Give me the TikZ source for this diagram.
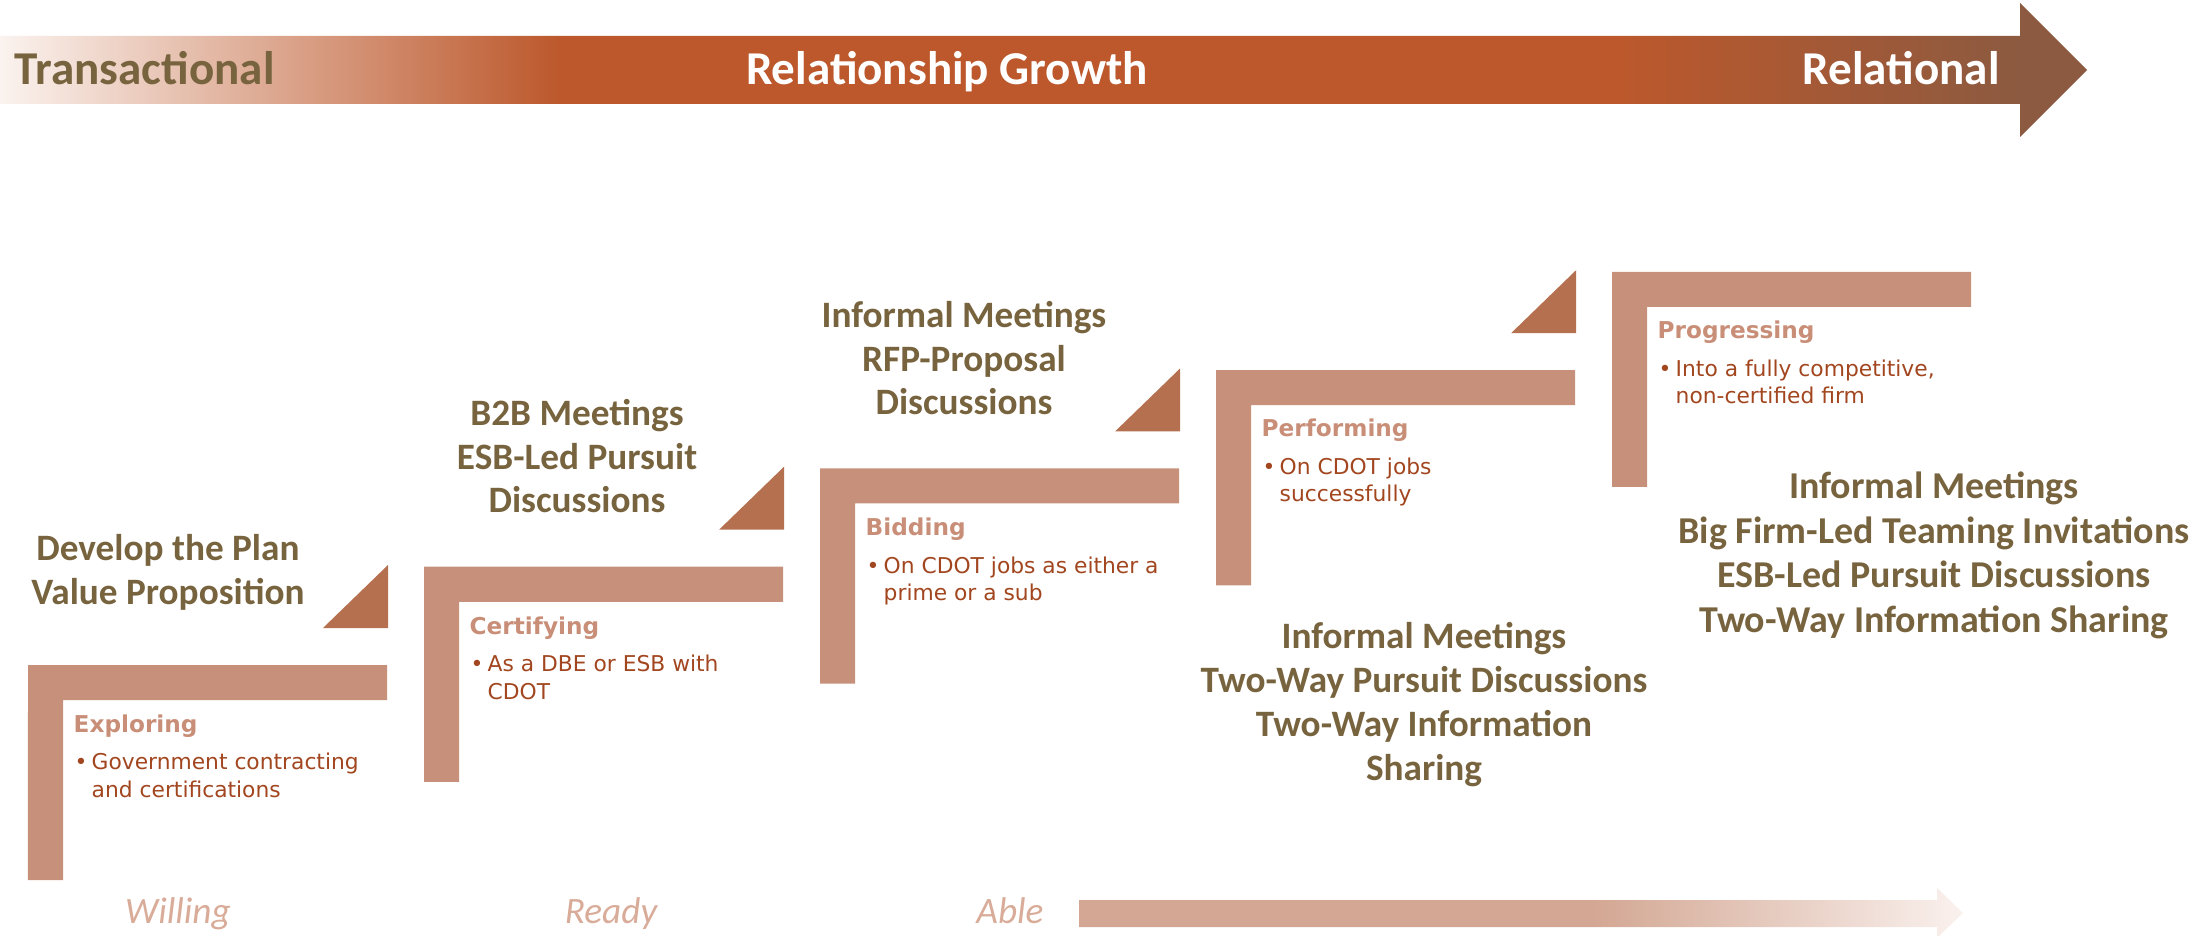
\documentclass[tikz,border=0pt]{standalone}
\usepackage{fontspec}
\setmainfont{Carlito}
\newfontfamily\stagefont{DejaVu Sans}

\definecolor{bannerpale}{HTML}{FBF3EF}
\definecolor{bannerorange}{HTML}{BC582C}
\definecolor{bannerbrown}{HTML}{8C5A40}
\definecolor{headtext}{HTML}{77643F}
\definecolor{barcolor}{HTML}{C7907A}
\definecolor{cornercolor}{HTML}{B4704F}
\definecolor{titlecolor}{HTML}{C98E77}
\definecolor{bulletcolor}{HTML}{A2461F}
\definecolor{levelcolor}{HTML}{D9AC99}
\definecolor{ablecolor}{HTML}{D3A793}
\definecolor{ablepale}{HTML}{FAF1EE}

\pgfdeclarehorizontalshading{growthshade}{100bp}{color(0bp)=(bannerpale); color(25bp)=(bannerpale); color(38.4bp)=(bannerorange); color(63.8bp)=(bannerorange); color(73.4bp)=(bannerbrown); color(100bp)=(bannerbrown)}
\pgfdeclarehorizontalshading{ableshade}{100bp}{color(0bp)=(ablecolor); color(54.1bp)=(ablecolor); color(75bp)=(ablepale); color(100bp)=(ablepale)}

\begin{document}
\begin{tikzpicture}[
	bannertext/.style={font=\fontsize{13.4}{16}\selectfont\bfseries, anchor=base, inner sep=0pt},
	headline/.style={font=\fontsize{10.6}{12.5}\selectfont\bfseries, text=headtext, align=center, anchor=base, inner sep=0pt},
	stagetitle/.style={font=\stagefont\fontsize{6.6}{8}\selectfont\bfseries, text=titlecolor, anchor=base west, inner sep=0pt},
	stagebullet/.style={font=\stagefont\fontsize{6.2}{7.7}\selectfont, text=bulletcolor, align=left, anchor=base west, inner sep=0pt},
	level/.style={font=\fontsize{10.6}{12}\selectfont\itshape, text=levelcolor, anchor=base, inner sep=0pt},
	stepbar/.style={fill=barcolor},
	stepcorner/.style={fill=cornercolor}
	]
	
	\useasboundingbox (0,0) rectangle (22.12,-9.36);
	
	% growth banner
	\shade [shading=growthshade] (0,-0.36) -- (20.2,-0.36) -- (20.2,-0.03) -- (20.87,-0.70) -- (20.2,-1.37) -- (20.2,-1.04) -- (0,-1.04) -- cycle;
	
	\node [bannertext, text=headtext, anchor=base west] at (0.14, -0.85) (transactional){Transactional};
	\node [bannertext, text=white] at (9.47, -0.85) (growth){Relationship Growth};
	\node [bannertext, text=white] at (19.01, -0.85) (relational){Relational};
	
	% steps
	\foreach \i in {0,...,4}{
		\fill [stepbar] ({0.28+3.96*\i}, {-6.65+0.9825*\i}) -- ++(3.59,0) -- ++(0,-0.35) -- ++(-3.24,0) -- ++(0,-1.80) -- ++(-0.35,0) -- cycle;
	}
	\foreach \i in {0,...,3}{
		\fill [stepcorner] ({3.88+3.96*\i}, {-6.28+0.9825*\i}) -- ++(0,0.63) -- ++(-0.65,-0.63) -- cycle;
	}
	
	% multi-line nodes sit on the baseline of their last line
	\node [stagetitle] at (0.73, -7.32) (stage1){Exploring};
	\node [stagebullet] at (0.91, -7.97) (stage1_text){\llap{\textbullet\hspace{1.2pt}}Government contracting\\and certifications};
	
	\node [stagetitle] at (4.69, -6.34) (stage2){Certifying};
	\node [stagebullet] at (4.87, -6.99) (stage2_text){\llap{\textbullet\hspace{1.2pt}}As a DBE or ESB with\\CDOT};
	
	\node [stagetitle] at (8.65, -5.355) (stage3){Bidding};
	\node [stagebullet] at (8.83, -6.005) (stage3_text){\llap{\textbullet\hspace{1.2pt}}On CDOT jobs as either a\\prime or a sub};
	
	\node [stagetitle] at (12.61, -4.37) (stage4){Performing};
	\node [stagebullet] at (12.79, -5.02) (stage4_text){\llap{\textbullet\hspace{1.2pt}}On CDOT jobs\\successfully};
	
	\node [stagetitle] at (16.57, -3.39) (stage5){Progressing};
	\node [stagebullet] at (16.75, -4.04) (stage5_text){\llap{\textbullet\hspace{1.2pt}}Into a fully competitive,\\non-certified firm};
	
	% activities
	\node [headline] at (1.68, -6.04) (activity1){Develop the Plan\\Value Proposition};
	\node [headline] at (5.77, -5.13) (activity2){B2B Meetings\\ESB-Led Pursuit\\Discussions};
	\node [headline] at (9.64, -4.15) (activity3){Informal Meetings\\RFP-Proposal\\Discussions};
	\node [headline] at (14.24, -7.80) (activity4){Informal Meetings\\Two-Way Pursuit Discussions\\Two-Way Information\\Sharing};
	\node [headline, font=\fontsize{10.8}{12.66}\selectfont\bfseries] at (19.34, -6.32) (activity5){Informal Meetings\\Big Firm-Led Teaming Invitations\\ESB-Led Pursuit Discussions\\Two-Way Information Sharing};
	
	% readiness scale
	\node [level] at (1.78, -9.23) (willing){Willing};
	\node [level] at (6.11, -9.23) (ready){Ready};
	\node [level] at (10.10, -9.23) (able){Able};
	
	\shade [shading=ableshade] (10.79,-9.00) -- (19.37,-9.00) -- (19.37,-8.88) -- (19.63,-9.13) -- (19.37,-9.38) -- (19.37,-9.27) -- (10.79,-9.27) -- cycle;
	
\end{tikzpicture}
\end{document}
